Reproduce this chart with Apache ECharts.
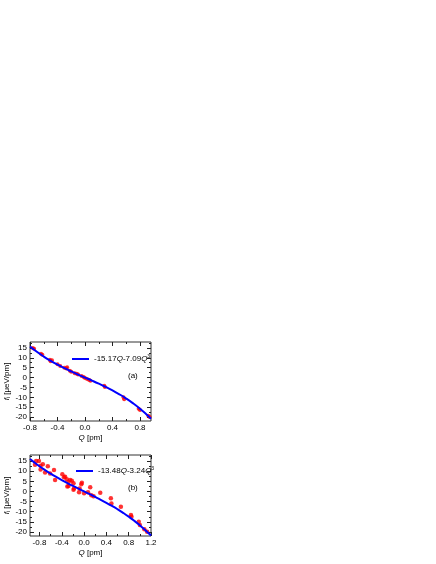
<!DOCTYPE html>
<html>
<head>
<meta charset="utf-8">
<script src="https://cdn.jsdelivr.net/npm/echarts@6/dist/echarts.min.js"></script>
<style>html,body{margin:0;padding:0;background:#fff;}#c{width:436px;height:564px;}</style>
</head>
<body>
<div id="c"></div>
<script>
// ---- Panel (a) ----
const fitQA = [-0.8,-0.7,-0.6,-0.5,-0.4,-0.3,-0.2,-0.1,0,0.1,0.2,0.3,0.4,0.5,0.6,0.7,0.8,0.9,0.96];
const fitFA = [15.77,13.05,10.63,8.47,6.52,4.74,3.09,1.52,0,-1.52,-3.09,-4.74,-6.52,-8.47,-10.63,-13.05,-15.77,-18.82,-20.84];
const ptsQA = [-0.76,-0.74,-0.64,-0.62,-0.51,-0.50,-0.48,-0.40,-0.36,-0.30,-0.27,-0.26,-0.22,-0.20,-0.15,-0.12,-0.10,-0.05,-0.02,0.00,0.03,0.06,0.08,0.28,0.29,0.56,0.57,0.78,0.80,0.92,0.94];
const ptsFA = [15.0,14.6,12.1,11.6,9.0,8.3,8.8,6.7,5.8,5.0,4.6,5.2,3.4,3.0,2.2,1.9,1.5,0.8,0.3,-0.2,-0.7,-1.2,-1.6,-4.2,-4.8,-10.0,-11.0,-15.8,-16.4,-19.4,-20.0];
const legendA = '-15.17{i|Q}-7.09{i|Q}{sup|3}';

// ---- Panel (b) ----
const fitQB = [-0.97,-0.9,-0.8,-0.7,-0.6,-0.5,-0.4,-0.3,-0.2,-0.1,0,0.1,0.2,0.3,0.4,0.5,0.6,0.7,0.8,0.9,1.0,1.1,1.2];
const fitFB = [16.03,14.49,12.44,10.55,8.79,7.15,5.60,4.13,2.72,1.35,0,-1.35,-2.72,-4.13,-5.60,-7.15,-8.79,-10.55,-12.44,-14.49,-16.72,-19.14,-21.78];
const ptsQB = [-0.86,-0.81,-0.88,-0.78,-0.74,-0.65,-0.78,-0.70,-0.61,-0.54,-0.52,-0.39,-0.36,-0.34,-0.31,-0.28,-0.25,-0.22,-0.19,-0.28,-0.18,-0.30,-0.19,-0.08,-0.05,-0.04,-0.09,0.00,0.07,0.11,0.13,0.17,0.29,0.48,0.49,0.66,0.84,0.85,0.98,1.00,1.08,1.13];
const ptsFB = [15.0,15.0,13.2,12.7,13.4,12.5,10.9,9.3,8.9,10.6,5.7,8.5,7.0,7.3,6.0,4.8,5.7,5.3,4.0,2.7,1.5,2.4,0.8,1.5,3.5,4.3,-0.4,-0.9,-0.4,2.1,-1.9,-2.4,-0.6,-3.4,-5.9,-7.5,-11.6,-12.5,-15.0,-16.6,-18.7,-19.9];
const legendB = '-13.48{i|Q}-3.24{i|Q}{sup|3}';

// ---- Axes ticks ----
const xTicksA = [-0.8,-0.4,0.0,0.4,0.8];
const xMinorA = [-0.6,-0.2,0.2,0.6];
const xTicksB = [-0.8,-0.4,0.0,0.4,0.8,1.2];
const xMinorB = [-0.6,-0.2,0.2,0.6,1.0];
const yTicks = [-20,-15,-10,-5,0,5,10,15];
const yMinor = [-17.5,-12.5,-7.5,-2.5,2.5,7.5,12.5,17.5];
const xRangeA = [-0.8, 0.96];
const xRangeB = [-0.97, 1.2];
const yRange = [-22, 18];

const FONT = 'Liberation Sans, Arial, sans-serif';
const TC = '#222';

function mkAxis(isX, grid, pos, range, ticks, len, labels, nameCfg) {
  const a = {
    type: 'value', gridIndex: grid, position: pos, min: range[0], max: range[1],
    axisLine: {show: false, onZero: false}, splitLine: {show: false},
    axisTick: {show: true, inside: true, length: len, customValues: ticks, lineStyle: {color: TC, width: 1}},
    axisLabel: labels ? {show: true, customValues: ticks, fontSize: 8, fontFamily: FONT, color: '#000', margin: 3,
      formatter: v => isX ? Number(v).toFixed(1) : String(Math.round(v))} : {show: false}
  };
  if (nameCfg) Object.assign(a, nameCfg);
  return a;
}
const xName = {name: '{i|Q} [pm]', nameLocation: 'middle', nameGap: 13,
  nameTextStyle: {fontSize: 8, fontFamily: FONT, color: '#000', rich: {i: {fontStyle: 'italic', fontSize: 8, fontFamily: FONT}}}};
const yName = {name: '{i|f}{s|i} [μeV/pm]', nameLocation: 'middle', nameGap: 12,
  nameTextStyle: {fontSize: 8, fontFamily: FONT, color: '#000', rich: {i: {fontStyle: 'italic', fontSize: 8, fontFamily: FONT}, s: {fontSize: 5, fontFamily: FONT, verticalAlign: 'bottom', padding: [4,0,0,0]}}}};

const xAxes = [], yAxes = [];
[[0, xRangeA, xTicksA, xMinorA], [1, xRangeB, xTicksB, xMinorB]].forEach(([g, r, t, m]) => {
  xAxes.push(mkAxis(true, g, 'bottom', r, t, 4, true, xName));
  xAxes.push(mkAxis(true, g, 'bottom', r, m, 2, false));
  xAxes.push(mkAxis(true, g, 'top', r, t, 4, false));
  xAxes.push(mkAxis(true, g, 'top', r, m, 2, false));
  yAxes.push(mkAxis(false, g, 'left', yRange, yTicks, 4, true, yName));
  yAxes.push(mkAxis(false, g, 'left', yRange, yMinor, 2, false));
  yAxes.push(mkAxis(false, g, 'right', yRange, yTicks, 4, false));
  yAxes.push(mkAxis(false, g, 'right', yRange, yMinor, 2, false));
});

const zip = (a, b) => a.map((v, i) => [v, b[i]]);
const legRich = {i: {fontStyle: 'italic', fontSize: 8, fontFamily: FONT}, sup: {fontSize: 5, fontFamily: FONT, verticalAlign: 'top', padding: [0,0,5,0]}};

const option = {
  animation: false,
  grid: [
    {left: 30, top: 342, width: 121, height: 79, show: true, borderColor: '#333', borderWidth: 1, backgroundColor: 'transparent'},
    {left: 30, top: 455, width: 121, height: 81, show: true, borderColor: '#333', borderWidth: 1, backgroundColor: 'transparent'}
  ],
  xAxis: xAxes,
  yAxis: yAxes,
  title: [
    {text: '(a)', left: 128, top: 372, padding: 0, textStyle: {fontSize: 8, fontWeight: 'normal', fontFamily: FONT, color: '#000'}},
    {text: '(b)', left: 128, top: 484, padding: 0, textStyle: {fontSize: 8, fontWeight: 'normal', fontFamily: FONT, color: '#000'}}
  ],
  legend: [
    {data: ['fitA'], left: 72, top: 354, padding: 0, icon: 'rect', itemWidth: 17, itemHeight: 2, itemGap: 2,
      formatter: () => legendA, textStyle: {fontSize: 8, fontFamily: FONT, color: '#000', rich: legRich}},
    {data: ['fitB'], left: 76, top: 466, padding: 0, icon: 'rect', itemWidth: 17, itemHeight: 2, itemGap: 2,
      formatter: () => legendB, textStyle: {fontSize: 8, fontFamily: FONT, color: '#000', rich: legRich}}
  ],
  series: [
    {name: 'ptsA', type: 'scatter', xAxisIndex: 0, yAxisIndex: 0, data: zip(ptsQA, ptsFA), symbol: 'circle', symbolSize: 4, itemStyle: {color: '#ff0000'}, z: 2},
    {name: 'fitA', type: 'line', xAxisIndex: 0, yAxisIndex: 0, data: zip(fitQA, fitFA), smooth: true, showSymbol: false, lineStyle: {color: '#0000ff', width: 2}, itemStyle: {color: '#0000ff'}, z: 3},
    {name: 'ptsB', type: 'scatter', xAxisIndex: 4, yAxisIndex: 4, data: zip(ptsQB, ptsFB), symbol: 'circle', symbolSize: 4.5, itemStyle: {color: '#ff0000'}, z: 2},
    {name: 'fitB', type: 'line', xAxisIndex: 4, yAxisIndex: 4, data: zip(fitQB, fitFB), smooth: true, showSymbol: false, lineStyle: {color: '#0000ff', width: 2}, itemStyle: {color: '#0000ff'}, z: 3}
  ]
};
const chart = echarts.init(document.getElementById('c'), null, {renderer: 'canvas'});
chart.setOption(option);
</script>
</body>
</html>
